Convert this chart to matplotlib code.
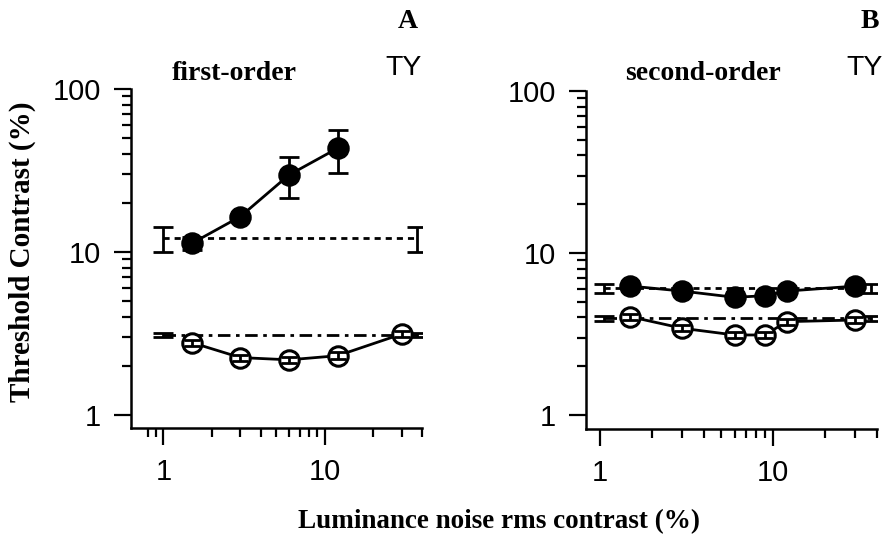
import matplotlib
matplotlib.use("Agg")
from matplotlib import pyplot as plt
from matplotlib.ticker import FixedLocator, NullFormatter

# first-order panel (A)
fo_x_filled = [1.5, 3, 6, 12]
fo_y_filled = [11.3, 16.5, 29.7, 43.3]
fo_lo_filled = [10.3, 16.0, 21.3, 30.4]
fo_hi_filled = [12.3, 17.0, 38.4, 56.0]

fo_x_open = [1.5, 3, 6, 12, 30]
fo_y_open = [2.78, 2.25, 2.18, 2.31, 3.14]
fo_lo_open = [2.65, 2.15, 2.08, 2.2, 3.0]
fo_hi_open = [2.9, 2.35, 2.28, 2.42, 3.28]

fo_base_x = [1.0, 37]
fo_base_filled = 12.1
fo_base_filled_err = (10.0, 14.2)
fo_base_open = 3.1
fo_base_open_err = (3.0, 3.2)

# second-order panel (B)
so_x = [1.5, 3, 6, 9, 12, 30]
so_y_filled = [6.25, 5.82, 5.33, 5.45, 5.82, 6.25]
so_y_open = [4.04, 3.43, 3.12, 3.12, 3.77, 3.86]
so_lo_open = [3.85, 3.28, 2.98, 2.98, 3.6, 3.7]
so_hi_open = [4.22, 3.58, 3.26, 3.26, 3.94, 4.02]

so_base_x = [1.05, 37]
so_base_filled = 6.05
so_base_filled_err = (5.65, 6.45)
so_base_open = 3.95
so_base_open_err = (3.8, 4.1)

W, H = 883, 539
fig = plt.figure(figsize=(W/100, H/100), dpi=100)
fig.patch.set_facecolor("white")

ax1 = fig.add_axes([131/W, 1-428/H, 291/W, (428-89)/H])
ax2 = fig.add_axes([586/W, 1-429/H, 291/W, (429-91)/H])

dashed = (0, (2.2, 1.8))
dashdot = (0, (4.5, 2, 1.3, 2))
ms = 14
lw = 2.0


def base_line(ax, xs, y, err, ls):
    ax.plot(xs, [y, y], color="black", lw=lw, linestyle=ls, zorder=2)
    lo = [y - err[0]] * 2
    hi = [err[1] - y] * 2
    ax.errorbar(xs, [y, y], yerr=[lo, hi], fmt="none", ecolor="black",
                elinewidth=2, capsize=7, capthick=2, zorder=2)


def series(ax, xs, ys, lo, hi, filled):
    face = "black" if filled else "white"
    ax.plot(xs, ys, color="black", lw=lw, marker="o", markersize=ms,
            markerfacecolor=face, markeredgecolor="black", markeredgewidth=2.2,
            zorder=3)
    if lo is not None:
        yerr = [[y - l for y, l in zip(ys, lo)], [h - y for y, h in zip(ys, hi)]]
        ax.errorbar(xs, ys, yerr=yerr, fmt="none", ecolor="black",
                    elinewidth=2, capsize=7 if filled else 5.5,
                    capthick=2, zorder=4)


# panel A
base_line(ax1, fo_base_x, fo_base_filled, fo_base_filled_err, dashed)
base_line(ax1, fo_base_x, fo_base_open, fo_base_open_err, dashdot)
series(ax1, fo_x_filled, fo_y_filled, fo_lo_filled, fo_hi_filled, True)
series(ax1, fo_x_open, fo_y_open, fo_lo_open, fo_hi_open, False)

# panel B
base_line(ax2, so_base_x, so_base_filled, so_base_filled_err, dashed)
base_line(ax2, so_base_x, so_base_open, so_base_open_err, dashdot)
series(ax2, so_x, so_y_filled, None, None, True)
series(ax2, so_x, so_y_open, so_lo_open, so_hi_open, False)

ax1.set_xlim(0.63, 40)
ax2.set_xlim(0.83, 40)
ax1.set_ylim(0.832, 100)
ax2.set_ylim(0.82, 100)

for ax, xminor in ((ax1, [0.8, 0.9]), (ax2, [])):
    ax.set_xscale("log")
    ax.set_yscale("log")
    for s in ("top", "right"):
        ax.spines[s].set_visible(False)
    for s in ("left", "bottom"):
        ax.spines[s].set_linewidth(1.8)
    ax.xaxis.set_major_locator(FixedLocator([1, 10]))
    ax.xaxis.set_minor_locator(FixedLocator(xminor + [2, 3, 4, 5, 6, 7, 8, 9, 20, 30, 40]))
    ax.yaxis.set_major_locator(FixedLocator([1, 10, 100]))
    ax.yaxis.set_minor_locator(FixedLocator([2, 3, 4, 5, 6, 7, 8, 9,
                                             20, 30, 40, 50, 60, 70, 80, 90]))
    ax.set_xticklabels(["1", "10"])
    ax.set_yticklabels(["1", "10", "100"])
    ax.xaxis.set_minor_formatter(NullFormatter())
    ax.yaxis.set_minor_formatter(NullFormatter())
    ax.tick_params(which="major", length=12.5, width=1.6, labelsize=21)
    ax.tick_params(which="minor", length=6.5, width=1.6)
    ax.tick_params(axis="y", which="major", pad=9)
    ax.tick_params(axis="x", which="major", pad=9)
    for lab in ax.get_xticklabels() + ax.get_yticklabels():
        lab.set_family("Liberation Sans")
    ax.set_facecolor("none")

serif = dict(family="Liberation Serif", weight="bold", color="black")
sans = dict(family="Liberation Sans", color="black")


def ftext(x, y, s, **kw):
    fig.text(x/W, 1-y/H, s, ha="center", va="center", **kw)


ftext(234, 73, "first-order", fontsize=20, **serif)
ftext(703, 73, "second-order", fontsize=20, **serif)
ftext(408, 22, "A", fontsize=20, **serif)
ftext(870, 22, "B", fontsize=20, **serif)
ftext(404, 68, "TY", fontsize=20.5, **sans)
ftext(865, 68, "TY", fontsize=20.5, **sans)
ftext(499, 522, "Luminance noise rms contrast (%)", fontsize=19.5, **serif)
fig.text(22/W, 1-252/H, "Threshold Contrast (%)", rotation=90, ha="center",
         va="center", fontsize=21, **serif)

fig.savefig("out.png", dpi=100)
